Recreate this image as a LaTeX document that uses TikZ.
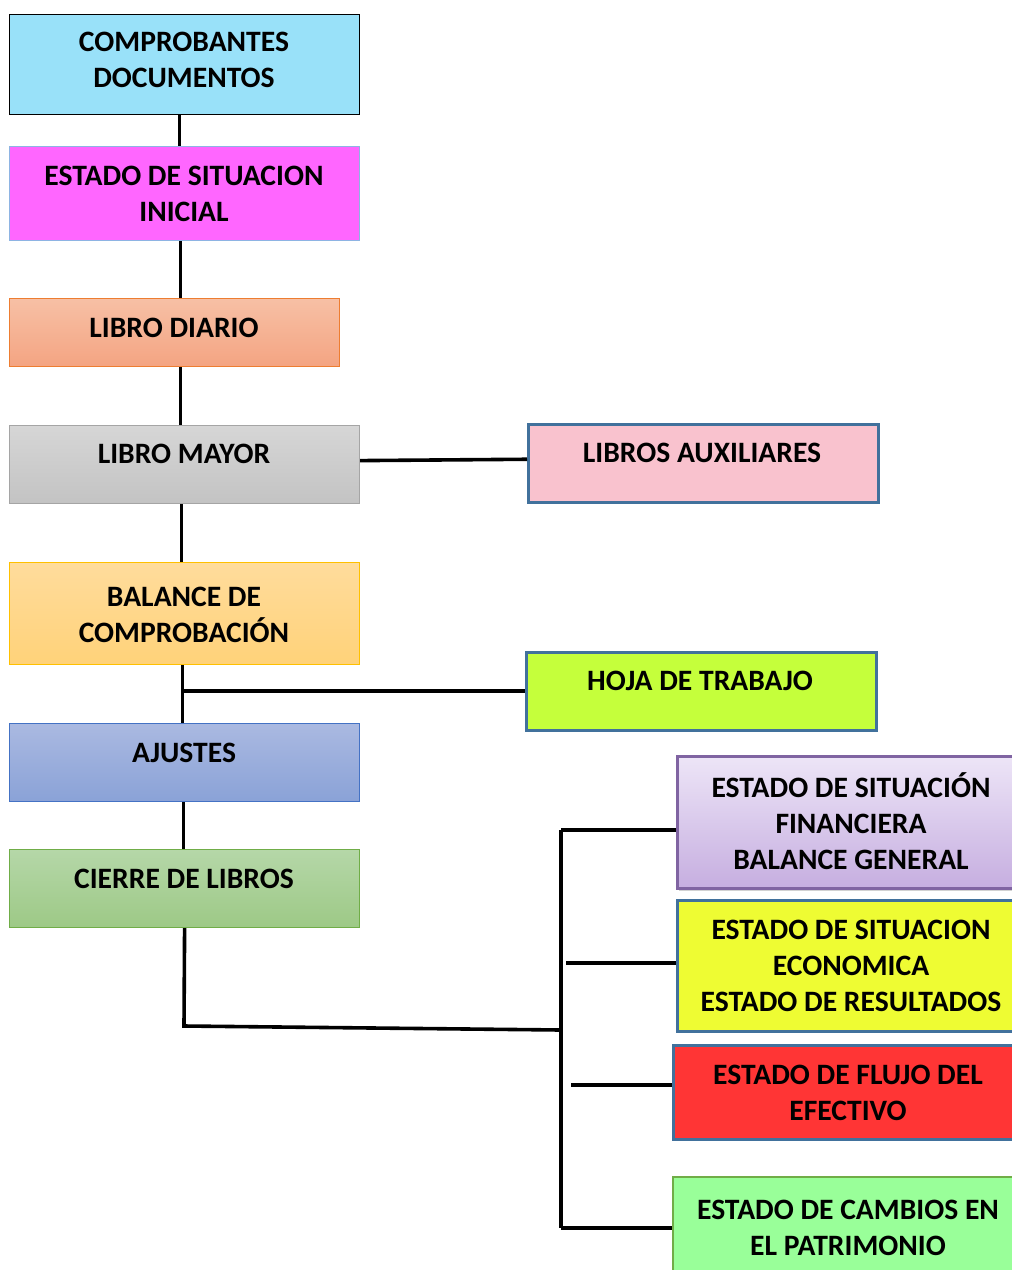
\documentclass[tikz,border=0pt]{standalone}
\usepackage{fontspec}
\setmainfont{Carlito}
\usetikzlibrary{shadows}
\definecolor{cCyan}{HTML}{99E1F9}
\definecolor{cMag}{HTML}{FF66FF}
\definecolor{cMagB}{HTML}{8EB4E3}
\definecolor{cDiaT}{HTML}{F7C0A5}
\definecolor{cDiaB}{HTML}{F4A482}
\definecolor{cDiaL}{HTML}{ED7D31}
\definecolor{cMayT}{HTML}{D6D6D6}
\definecolor{cMayB}{HTML}{C3C3C3}
\definecolor{cMayL}{HTML}{A5A5A5}
\definecolor{cBalT}{HTML}{FFDC9C}
\definecolor{cBalB}{HTML}{FFD279}
\definecolor{cBalL}{HTML}{FFC000}
\definecolor{cAjuT}{HTML}{AAB9E1}
\definecolor{cAjuB}{HTML}{8AA2D7}
\definecolor{cAjuL}{HTML}{4472C4}
\definecolor{cCieT}{HTML}{B5D7A8}
\definecolor{cCieB}{HTML}{9DC986}
\definecolor{cCieL}{HTML}{70AD47}
\definecolor{cAux}{HTML}{F9C2CE}
\definecolor{cBlueL}{HTML}{41719C}
\definecolor{cHoja}{HTML}{C5FF3B}
\definecolor{cFinT}{HTML}{EDE5F7}
\definecolor{cFinB}{HTML}{C6AEE0}
\definecolor{cFinL}{HTML}{8064A2}
\definecolor{cEco}{HTML}{EEFC33}
\definecolor{cFlu}{HTML}{FF3535}
\definecolor{cPat}{HTML}{99FF99}
\begin{document}
\begin{tikzpicture}[x=1pt,y=-1pt,
  box/.style={rectangle, draw, line width=1.2pt, inner sep=0pt, anchor=north west},
  rbox/.style={box, line width=2.5pt},
  txt/.style={font=\fontsize{29.6}{36}\selectfont\bfseries, align=center, inner sep=0pt},
  conn/.style={line width=3.6pt, black}]
\useasboundingbox (0,0) rectangle (1012,1270);
\clip (0,0) rectangle (1012,1270);
\fill[white] (0,0) rectangle (1012,1270);

% left column boxes
\node[box, draw=black, fill=cCyan, minimum width=350pt, minimum height=100pt] (comp) at (9,14) {};
\node[box, draw=cMagB, fill=cMag, minimum width=350pt, minimum height=94pt] (sit) at (9,146) {};
\node[box, draw=cDiaL, top color=cDiaT, bottom color=cDiaB, minimum width=330pt, minimum height=68pt] (dia) at (9,298) {};
\node[box, draw=cMayL, top color=cMayT, bottom color=cMayB, minimum width=350pt, minimum height=78pt] (may) at (9,425) {};
\node[box, draw=cBalL, top color=cBalT, bottom color=cBalB, minimum width=350pt, minimum height=102pt] (bal) at (9,562) {};
\node[box, draw=cAjuL, top color=cAjuT, bottom color=cAjuB, minimum width=350pt, minimum height=78pt] (aju) at (9,723) {};
\node[box, draw=cCieL, top color=cCieT, bottom color=cCieB, minimum width=350pt, minimum height=78pt] (cie) at (9,849) {};

% right boxes
\node[rbox, draw=cBlueL, fill=cAux, minimum width=350pt, minimum height=78pt] (aux) at (527,423) {};
\node[rbox, draw=cBlueL, fill=cHoja, minimum width=350pt, minimum height=78pt] (hoja) at (525,651) {};
\node[rbox, draw=cFinL, top color=cFinT, bottom color=cFinB, minimum width=360pt, minimum height=132pt,
      drop shadow={opacity=0.35, shadow xshift=2pt, shadow yshift=-3pt}] (fin) at (676,755) {};
\node[rbox, draw=cBlueL, fill=cEco, minimum width=360pt, minimum height=131pt] (eco) at (676,899) {};
\node[rbox, draw=cBlueL, fill=cFlu, minimum width=360pt, minimum height=94pt] (flu) at (672,1044) {};
\node[box, draw=cCieL, line width=1.5pt, fill=cPat, minimum width=360pt, minimum height=110pt] (pat) at (672,1176) {};

% texts
\node[txt] (tcomp) at (184,60) {COMPROBANTES\\DOCUMENTOS};
\node[txt] (tsit) at (184,194) {ESTADO DE SITUACION\\INICIAL};
\node[txt] (tdia) at (174,328) {LIBRO DIARIO};
\node[txt] (tmay) at (184,454) {LIBRO MAYOR};
\node[txt] (tbal) at (184,614.5) {BALANCE DE\\COMPROBACIÓN};
\node[txt] (taju) at (184,753) {AJUSTES};
\node[txt] (tcie) at (184,879) {CIERRE DE LIBROS};
\node[txt] (taux) at (702,453) {LIBROS AUXILIARES};
\node[txt] (thoja) at (700,681) {HOJA DE TRABAJO};
\node[txt] (tfin) at (851,821) {ESTADO DE SITUACIÓN\\FINANCIERA\\BALANCE GENERAL};
\node[txt] (teco) at (851,966) {ESTADO DE SITUACION\\ECONOMICA\\ESTADO DE RESULTADOS};
\node[txt] (tflu) at (848,1093) {ESTADO DE FLUJO DEL\\EFECTIVO};
\node[txt] (tpat) at (848,1228) {ESTADO DE CAMBIOS EN\\EL PATRIMONIO};

% connectors
\draw[conn] ([xshift=-5pt]comp.south) -- ([xshift=-5pt]sit.north);
\draw[conn] ([xshift=-4pt]sit.south) -- ([xshift=-4pt]sit.south |- dia.north);
\draw[conn] ([xshift=6pt]dia.south) -- ([xshift=6pt]dia.south |- may.north);
\draw[conn] ([xshift=-3pt]may.south) -- ([xshift=-3pt]bal.north);
\draw[conn] ([yshift=4pt]may.east) -- ([yshift=4pt]aux.west);
\draw[conn] ([xshift=-2pt]bal.south) -- ([xshift=-2pt]aju.north);
\draw[conn] ([xshift=-2pt]bal.south |- hoja.west) -- (hoja.west);
\draw[conn] ([xshift=-1pt]aju.south) -- ([xshift=-1pt]cie.north);

\coordinate (busT) at (561,830);
\coordinate (busM) at (561,1030);
\coordinate (busB) at (561,1228);
\coordinate (cieC) at (184,1026);
\draw[conn] (cie.south) -- (cieC) -- (busM);
\draw[conn] (busT) -- (busB);
\draw[conn] (busT) -- (busT -| fin.west);
\draw[conn] ([yshift=2.5pt]eco.west) -- ++(-110,0);
\draw[conn] ([yshift=7pt]flu.west) -- ++(-101,0);
\draw[conn] (busB) -- (busB -| pat.west);
\end{tikzpicture}
\end{document}
